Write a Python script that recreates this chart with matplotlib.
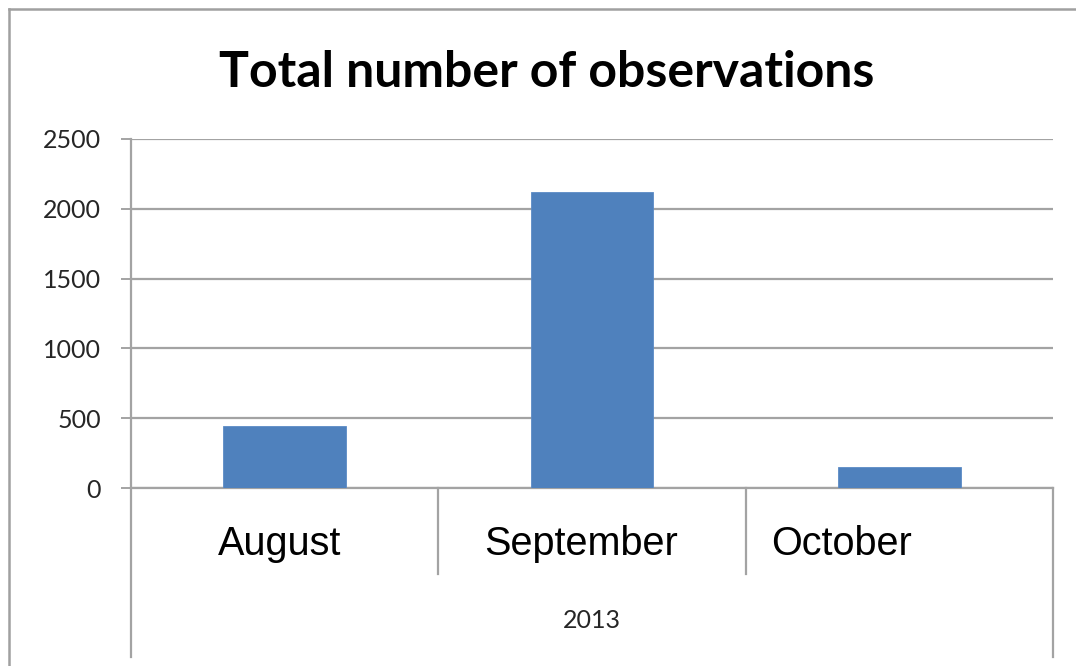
import matplotlib
matplotlib.use("Agg")
import matplotlib.pyplot as plt
import matplotlib.transforms as mtransforms
from matplotlib.lines import Line2D

# Data
months = ["August", "September", "October"]
observations = [445, 2120, 150]
year_label = "2013"
y_ticks = [0, 500, 1000, 1500, 2000, 2500]

# Layout
W, H, DPI = 1076, 666, 100
BAR_COLOR = "#4F81BD"
LINE_COLOR = "#A3A3A3"
label_shift = [-0.017, -0.037, -0.187]   # horizontal nudge of month labels (category units)

fig = plt.figure(figsize=(W / DPI, H / DPI), dpi=DPI)
fig.patch.set_facecolor("white")

def px_x(p):
    return p / W

def px_y(p):
    return 1 - p / H

left, right, top, bottom = 131, 1053, 139, 488
ax = fig.add_axes([px_x(left), px_y(bottom), (right - left) / W, (bottom - top) / H])

x = list(range(len(months)))
ax.bar(x, observations, width=0.4, color=BAR_COLOR, edgecolor="#5B8BC6", linewidth=0.6, zorder=3)

ax.set_xlim(-0.5, len(months) - 0.5)
ax.set_ylim(0, 2500)
ax.set_yticks(y_ticks)
ax.set_yticklabels([str(v) for v in y_ticks], fontfamily="Lato", fontsize=18, color="#262626")
ax.tick_params(axis="y", direction="out", length=7.5, width=1.4, color=LINE_COLOR, pad=14)
ax.set_xticks([])
ax.grid(axis="y", color=LINE_COLOR, linewidth=1.6, zorder=1)
ax.set_axisbelow(True)

for side in ["top", "right"]:
    ax.spines[side].set_visible(False)
ax.spines["bottom"].set_color(LINE_COLOR)
ax.spines["bottom"].set_linewidth(1.6)
ax.spines["left"].set_visible(False)

# Multi-level category axis: separators, month labels and year label
trans = mtransforms.blended_transform_factory(ax.transData, ax.transAxes)
ax_h = bottom - top
inner_end = -(574 - bottom) / ax_h
outer_end = -(657 - bottom) / ax_h
n = len(months)
for b in range(n + 1):
    xb = b - 0.5
    y_end = outer_end if b in (0, n) else inner_end
    y_start = 1.0 if b == 0 else (0.0 if b < n else 0.0)
    ax.add_line(Line2D([xb, xb], [y_start, y_end], transform=trans, color=LINE_COLOR,
                       linewidth=1.6, clip_on=False, zorder=4))

month_base = -(555 - bottom) / ax_h
for i, m in enumerate(months):
    ax.text(i + label_shift[i], month_base, m, transform=trans, ha="center", va="baseline",
            fontfamily="Liberation Sans", fontsize=28.5, color="black")

year_y = -(621 - bottom) / ax_h
ax.text((n - 1) / 2, year_y, year_label, transform=trans, ha="center", va="center",
        fontfamily="Lato", fontsize=18, color="#262626")

# Title
fig.text(px_x(546.5), px_y(87), "Total number of observations", ha="center", va="baseline",
         fontfamily="Lato", fontweight="bold", fontsize=36, color="black")

# Chart-area border (left and top edges)
fig.add_artist(Line2D([px_x(9), px_x(9)], [px_y(9), 0], transform=fig.transFigure,
                      color="#A0A0A0", linewidth=1.8))
fig.add_artist(Line2D([px_x(9), 1], [px_y(9), px_y(9)], transform=fig.transFigure,
                      color="#A0A0A0", linewidth=1.8))

fig.savefig("out.png", dpi=DPI, facecolor="white")
